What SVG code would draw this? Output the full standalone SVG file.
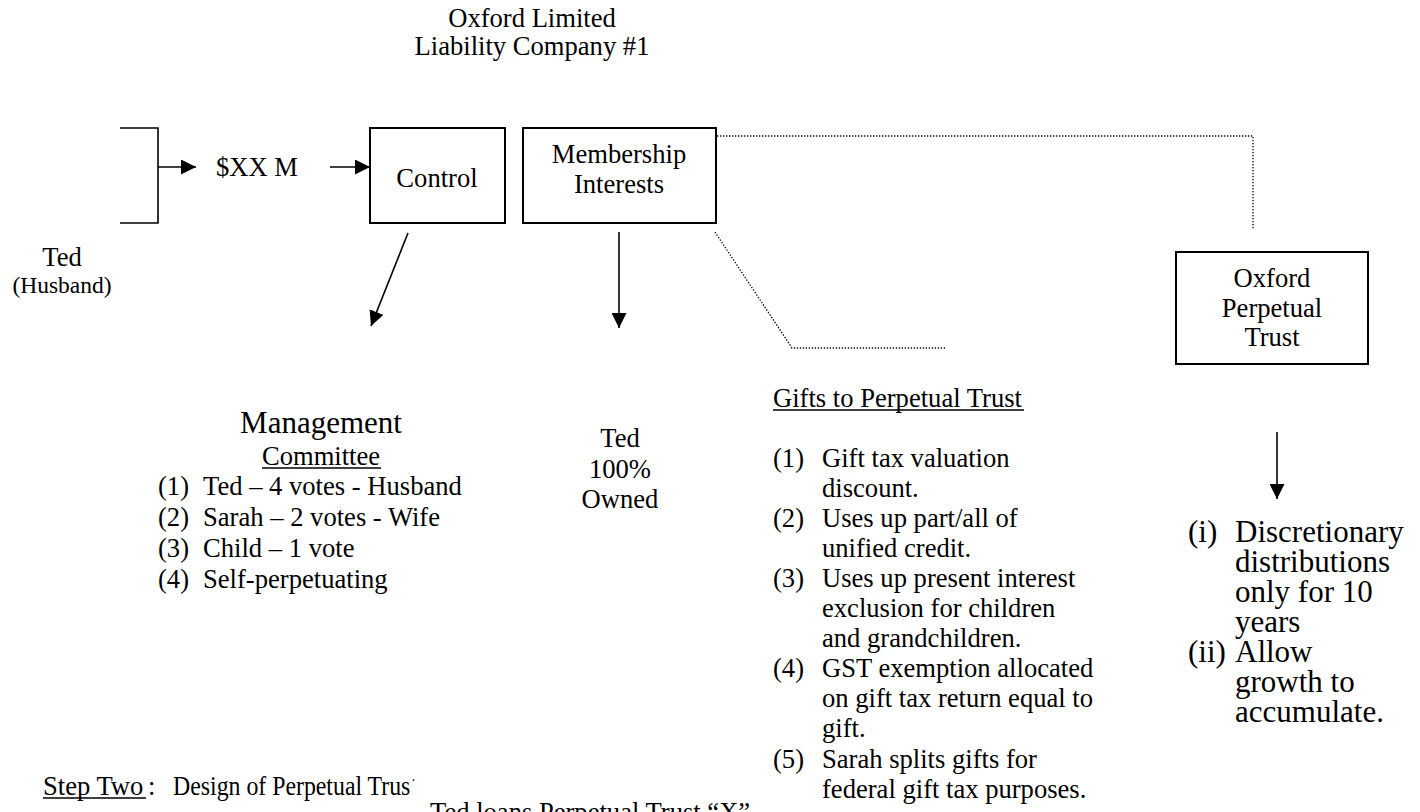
<svg xmlns="http://www.w3.org/2000/svg" width="1420" height="812" viewBox="0 0 1420 812" font-family="'Liberation Serif', 'Times New Roman', serif">
  <defs>
    <style>
      text { font-family: "Liberation Serif", "Times New Roman", serif; fill: #000; }
      .t26 { font-size: 26.6px; }
      .t24 { font-size: 23.5px; }
      .t31 { font-size: 31px; }
      .mid { text-anchor: middle; }
      .box { fill: #fff; stroke: #000; stroke-width: 2; }
      .solid { fill: none; stroke: #000; stroke-width: 1.6; }
      .dotted { fill: none; stroke: #000; stroke-width: 1.3; stroke-dasharray: 1.3 1.7; }
      .ul { stroke: #000; stroke-width: 1.5; }
    </style>
    <marker id="arrow" viewBox="0 0 10 10" refX="10" refY="5" markerWidth="15" markerHeight="15" markerUnits="userSpaceOnUse" orient="auto">
      <path d="M0,0 L10,5 L0,10 z" fill="#000"/>
    </marker>
  </defs>
  <rect width="1420" height="812" fill="#fff"/>

  <!-- heading -->
  <g id="company-title">
    <text class="t26 mid" x="532" y="27">Oxford Limited</text>
    <text class="t26 mid" x="532" y="55">Liability Company #1</text>
  </g>

  <!-- contributor bracket -->
  <g id="ted-source">
    <path class="solid" d="M120,128 H158 V223 H120" stroke-width="2"/>
    <text class="t26 mid" x="62" y="266">Ted</text>
    <text class="t24 mid" x="62" y="293">(Husband)</text>
  </g>

  <g id="amount">
    <text class="t26" x="216" y="176">$XX M</text>
  </g>

  <g id="control">
    <rect class="box" x="370" y="128" width="135" height="95"/>
    <text class="t26 mid" x="437" y="187">Control</text>
  </g>

  <g id="membership">
    <rect class="box" x="523" y="128" width="193" height="95"/>
    <text class="t26 mid" x="619" y="163">Membership</text>
    <text class="t26 mid" x="619" y="193">Interests</text>
  </g>

  <g id="perpetual-trust">
    <rect class="box" x="1176" y="252" width="192" height="112"/>
    <text class="t26 mid" x="1272" y="287">Oxford</text>
    <text class="t26 mid" x="1272" y="317">Perpetual</text>
    <text class="t26 mid" x="1272" y="346">Trust</text>
  </g>

  <!-- connectors -->
  <g id="connectors">
    <line class="solid" x1="158" y1="167" x2="196" y2="167" marker-end="url(#arrow)"/>
    <line class="solid" x1="330" y1="167" x2="370" y2="167" marker-end="url(#arrow)"/>
    <line class="solid" x1="408" y1="233" x2="371" y2="326" marker-end="url(#arrow)"/>
    <line class="solid" x1="619" y1="232" x2="619" y2="328" marker-end="url(#arrow)"/>
    <line class="solid" x1="1277" y1="432" x2="1277" y2="499" marker-end="url(#arrow)"/>
    <path class="dotted" d="M717,136 H1253 V230"/>
    <path class="dotted" d="M715,232 L792,348 H945"/>
  </g>

  <g id="management-committee">
    <text class="t31 mid" x="321" y="433">Management</text>
    <text class="t26 mid" x="321" y="465">Committee</text>
    <line class="ul" x1="262" y1="468" x2="381" y2="468"/>
    <text class="t26" x="158" y="495">(1)</text>
    <text class="t26" x="203" y="495">Ted – 4 votes - Husband</text>
    <text class="t26" x="158" y="526">(2)</text>
    <text class="t26" x="203" y="526">Sarah – 2 votes - Wife</text>
    <text class="t26" x="158" y="557">(3)</text>
    <text class="t26" x="203" y="557">Child – 1 vote</text>
    <text class="t26" x="158" y="588">(4)</text>
    <text class="t26" x="203" y="588">Self-perpetuating</text>
  </g>

  <g id="ownership">
    <text class="t26 mid" x="620" y="447">Ted</text>
    <text class="t26 mid" x="620" y="478">100%</text>
    <text class="t26 mid" x="620" y="508">Owned</text>
  </g>

  <g id="gifts">
    <text class="t26" x="773" y="407">Gifts to Perpetual Trust</text>
    <line class="ul" x1="773" y1="410" x2="1024" y2="410"/>
    <text class="t26" x="773" y="467">(1)</text>
    <text class="t26" x="822" y="467">Gift tax valuation</text>
    <text class="t26" x="822" y="497">discount.</text>
    <text class="t26" x="773" y="527">(2)</text>
    <text class="t26" x="822" y="527">Uses up part/all of</text>
    <text class="t26" x="822" y="557">unified credit.</text>
    <text class="t26" x="773" y="587">(3)</text>
    <text class="t26" x="822" y="587">Uses up present interest</text>
    <text class="t26" x="822" y="617">exclusion for children</text>
    <text class="t26" x="822" y="647">and grandchildren.</text>
    <text class="t26" x="773" y="677">(4)</text>
    <text class="t26" x="822" y="677">GST exemption allocated</text>
    <text class="t26" x="822" y="707">on gift tax return equal to</text>
    <text class="t26" x="822" y="737">gift.</text>
    <text class="t26" x="773" y="768">(5)</text>
    <text class="t26" x="822" y="768">Sarah splits gifts for</text>
    <text class="t26" x="822" y="798">federal gift tax purposes.</text>
  </g>

  <g id="trust-terms">
    <text class="t31" x="1188" y="542">(i)</text>
    <text class="t31" x="1235" y="542">Discretionary</text>
    <text class="t31" x="1235" y="572">distributions</text>
    <text class="t31" x="1235" y="602">only for 10</text>
    <text class="t31" x="1235" y="632">years</text>
    <text class="t31" x="1188" y="662">(ii)</text>
    <text class="t31" x="1235" y="662">Allow</text>
    <text class="t31" x="1235" y="692">growth to</text>
    <text class="t31" x="1235" y="722">accumulate.</text>
  </g>

  <g id="step-two">
    <text class="t26" x="43" y="795">Step Two</text>
    <line class="ul" x1="43" y1="798" x2="146" y2="798"/>
    <text class="t26" x="148" y="795">:</text>
    <text class="t26" x="173" y="795" textLength="244" lengthAdjust="spacingAndGlyphs">Design of Perpetual Trust</text>
  </g>

  <!-- loan note box sits over the end of the step heading -->
  <g id="loan-note">
    <rect x="411" y="781" width="352" height="40" fill="#fff"/>
    <text class="t26" x="430" y="821">Ted loans Perpetual Trust “X”</text>
  </g>
</svg>
